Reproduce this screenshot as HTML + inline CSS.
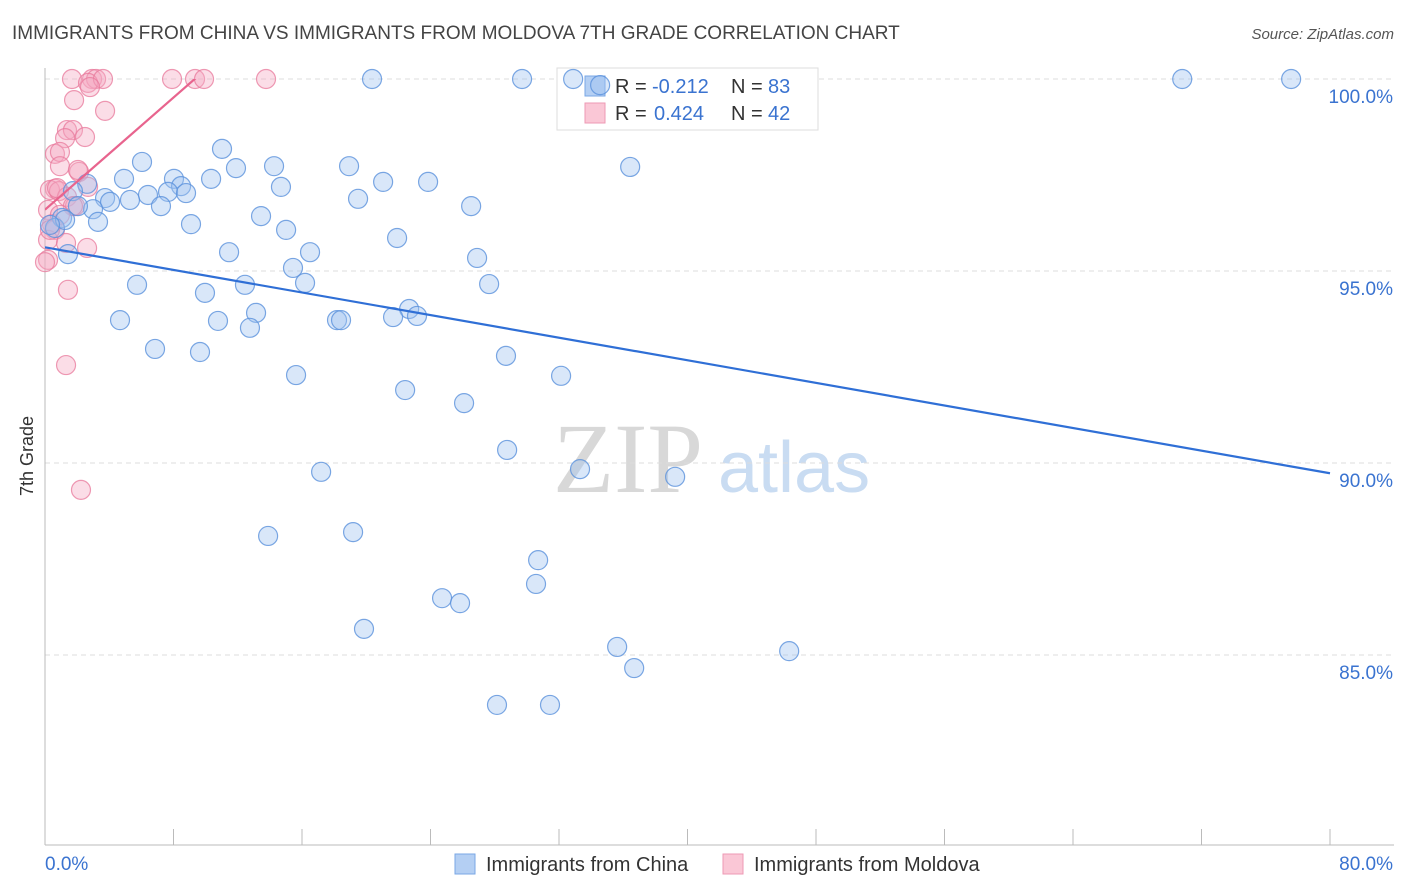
<!DOCTYPE html>
<html><head><meta charset="utf-8"><style>
body{margin:0;background:#fff;width:1406px;height:892px;overflow:hidden;font-family:"Liberation Sans",sans-serif}
svg{position:absolute;left:0;top:0}
</style></head><body>
<svg id="chart" width="1406" height="892">
<text x="12" y="39" font-size="19" fill="#444">IMMIGRANTS FROM CHINA VS IMMIGRANTS FROM MOLDOVA 7TH GRADE CORRELATION CHART</text>
<text x="1394" y="39" font-size="15" fill="#555" font-style="italic" text-anchor="end">Source: ZipAtlas.com</text>
<text transform="translate(33,456) rotate(-90)" font-size="18" fill="#333" text-anchor="middle">7th Grade</text>
<g><text x="553" y="492" font-size="100" font-family="Liberation Serif,serif" fill="#d8d8d8">ZIP</text><text x="718" y="492" font-size="72" fill="#c9dcf2">atlas</text></g>
<g id="grid"></g><g id="axes"></g>
<rect x="557" y="68" width="261" height="62" fill="#fff" stroke="#ddd"/>
<g><rect x="585" y="76" width="20" height="20" fill="#b4cff3" stroke="#7aa7e6"/><text x="615" y="93" font-size="20" fill="#333">R = </text><text x="652" y="93" font-size="20" fill="#3a73d0">-0.212</text><text x="731" y="93" font-size="20" fill="#333">N = </text><text x="768" y="93" font-size="20" fill="#3a73d0">83</text></g>
<g><rect x="585" y="103" width="20" height="20" fill="#fac7d6" stroke="#ee9ab4"/><text x="615" y="120" font-size="20" fill="#333">R = </text><text x="654" y="120" font-size="20" fill="#3a73d0">0.424</text><text x="731" y="120" font-size="20" fill="#333">N = </text><text x="768" y="120" font-size="20" fill="#3a73d0">42</text></g>
<defs><clipPath id="pc"><rect x="45" y="79" width="1290" height="766"/></clipPath></defs>
<g id="pts"></g><g id="lines" clip-path="url(#pc)"></g>
<g>
<rect x="455" y="854" width="20" height="20" fill="#b4cff3" stroke="#7aa7e6"/><text x="486" y="871" font-size="20" fill="#333">Immigrants from China</text>
<rect x="723" y="854" width="20" height="20" fill="#fac7d6" stroke="#ee9ab4"/><text x="754" y="871" font-size="20" fill="#333">Immigrants from Moldova</text></g>
</svg>
<script>
const chinaX=[20.36,29.70,32.88,70.80,77.58,11.02,6.04,14.26,18.93,36.43,11.89,4.92,8.03,21.05,23.85,10.34,2.62,8.47,14.69,7.66,1.74,8.78,6.41,3.74,4.05,5.29,19.49,26.53,2.99,7.22,2.05,13.45,1.06,9.09,3.30,15.01,21.92,0.62,11.46,16.50,1.43,26.90,15.44,5.73,12.45,16.19,27.65,9.96,22.67,13.14,4.67,10.77,18.18,18.43,21.67,23.16,12.76,6.85,9.65,28.70,15.63,32.13,22.42,26.09,28.77,17.19,33.31,39.23,13.89,19.18,30.70,30.57,24.72,25.84,19.86,35.62,46.33,36.68,28.14,31.44,34.56,1.25,0.31];
const chinaY=[100,100,100,100,100,98.18,97.84,97.73,97.73,97.71,97.68,97.40,97.40,97.32,97.32,97.40,97.27,97.21,97.19,97.06,97.08,97.03,96.98,96.90,96.80,96.85,96.88,96.69,96.61,96.69,96.69,96.43,96.38,96.22,96.28,96.07,95.86,96.12,95.49,95.49,95.44,95.34,95.08,94.64,94.64,94.69,94.66,94.43,94.01,93.91,93.72,93.70,93.72,93.72,93.80,93.83,93.52,92.97,92.89,92.79,92.29,92.27,91.90,91.56,90.34,89.77,89.84,89.64,88.10,88.20,87.47,86.85,86.48,86.35,85.68,85.21,85.10,84.66,83.70,83.70,99.84,96.33,96.20];
const moldX=[1.68,2.93,3.18,2.68,3.61,7.91,9.34,9.90,13.76,2.80,1.81,3.74,1.37,1.74,1.25,2.49,0.62,0.93,0.93,2.12,0.62,0.31,0.87,1.37,1.87,1.74,0.19,0.44,0.62,0.19,1.31,2.62,0.19,1.43,1.31,2.24,0.75,0.31,0.93,0.0,2.05,2.68];
const moldY=[100,100,100,99.90,100,100,100,100,100,99.79,99.45,99.17,98.67,98.67,98.46,98.49,98.05,98.10,97.73,97.58,97.14,97.11,97.08,96.93,96.69,96.69,96.59,96.22,96.07,95.81,95.73,95.60,95.29,94.51,92.55,89.30,97.16,96.07,96.46,95.23,97.63,97.19];
const yTicks=[100,95,90,85];
const xLabels=["0.0%","80.0%"];
const NS="http://www.w3.org/2000/svg";
const sx=v=>45+v*1285/80, sy=v=>79+(100-v)*38.4;
function mk(tag,at,parent){const e=document.createElementNS(NS,tag);for(const k in at)e.setAttribute(k,at[k]);document.getElementById(parent).appendChild(e);return e;}
yTicks.forEach(t=>{
 const l=mk('line',{x1:45,x2:1394,y1:sy(t),y2:sy(t),stroke:'#ddd','stroke-dasharray':'5,4'},'grid');
 
 
 const tx=mk('text',{x:1393,y:sy(t)+24,'font-size':19,fill:'#3a73d0','text-anchor':'end'},'grid');
 tx.textContent=t.toFixed(1)+'%';
 
 
});
const ax=mk('line',{x1:45,x2:45,y1:68,y2:845,stroke:'#bbb'},'axes');


const bx=mk('line',{x1:45,x2:1394,y1:845,y2:845,stroke:'#bbb'},'axes');


for(let i=0;i<=10;i++){const t=mk('line',{x1:sx(i*8),x2:sx(i*8),y1:829,y2:845,stroke:'#bbb'},'axes');
 
 }
[[0,'start'],[80,'end']].forEach((p,i)=>{const t=mk('text',{x:sx(p[0])+(i?63:0),y:870,'font-size':19,fill:'#3a73d0','text-anchor':p[1]},'axes');
 t.textContent=xLabels[i];
 
 });
function series(X,Y,fill,stroke,name){X.forEach((x,i)=>{const c=mk('circle',{cx:sx(x),cy:sy(Y[i]),r:9.5,fill:fill,stroke:stroke,'stroke-width':1.2},'pts');
 
 });}
function reg(X,Y){const n=X.length,mx=X.reduce((a,b)=>a+b)/n,my=Y.reduce((a,b)=>a+b)/n;let a=0,b=0;X.forEach((x,i)=>{a+=(x-mx)*(Y[i]-my);b+=(x-mx)*(x-mx)});const s=a/b;return [s,my-s*mx];}
function trend(X,Y,x0,x1,col,name){const [s,c]=reg(X,Y);const l=mk('line',{x1:sx(x0),y1:sy(c+s*x0),x2:sx(x1),y2:sy(c+s*x1),stroke:col,'stroke-width':2.2},'lines');
 
 }
series(moldX,moldY,'rgba(246,170,195,0.4)','rgba(232,120,155,0.75)','moldova-point');
series(chinaX,chinaY,'rgba(160,196,240,0.4)','rgba(90,145,220,0.8)','china-point');
trend(chinaX,chinaY,0,80,'#2f6fd6','china-trend-line');
trend(moldX,moldY,0,Math.max(...moldX),'#e8648e','moldova-trend-line');
</script>
</body></html>
